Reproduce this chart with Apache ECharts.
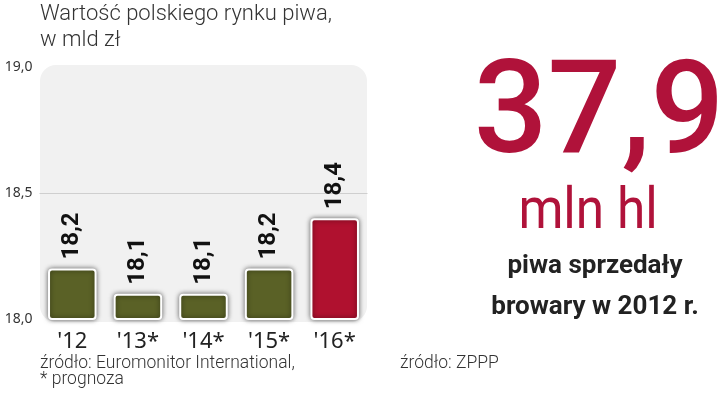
<!DOCTYPE html>
<html><head><meta charset="utf-8">
<script src="https://cdn.jsdelivr.net/npm/echarts@6/dist/echarts.min.js"></script>
<style>html,body{margin:0;padding:0;background:#fff}#c{width:720px;height:393px}</style>
</head><body><div id="c"></div>
<script>
const categories = ["'12", "'13*", "'14*", "'15*", "'16*"];
const values = [18.2, 18.1, 18.1, 18.2, 18.4];
const barColors = ['#5a6126', '#5a6126', '#5a6126', '#5a6126', '#b0112f'];
const yTicks = [18.0, 18.5, 19.0];
const title1 = 'Wartość polskiego rynku piwa,';
const title2 = 'w mld zł';
const source1 = 'źródło: Euromonitor International,';
const source2 = '* prognoza';
const source3 = 'źródło: ZPPP';
const bigNumber = '37,9';
const bigUnit = 'mln hl';
const note1 = 'piwa sprzedały';
const note2 = 'browary w 2012 r.';

const fmt = v => v.toFixed(1).replace('.', ',');
const chart = echarts.init(document.getElementById('c'));
const lightFont = 'Roboto';
chart.setOption({
  animation: false,
  grid: {left: 39.5, right: 352.5, top: 67, bottom: 74},
  xAxis: {
    type: 'category', data: categories,
    axisLine: {show: false}, axisTick: {show: false},
    axisLabel: {fontSize: 22, color: '#222', margin: 12, fontFamily: 'Noto Sans'}
  },
  yAxis: {
    type: 'value', min: yTicks[0], max: yTicks[yTicks.length - 1], interval: 0.5,
    axisLine: {show: false}, axisTick: {show: false},
    axisLabel: {fontSize: 14, color: '#333', margin: 7, formatter: v => fmt(v), fontFamily: 'Noto Sans'},
    splitLine: {show: true, lineStyle: {color: ['rgba(0,0,0,0)', '#cfcfcf', 'rgba(0,0,0,0)'], width: 1}}
  },
  series: [{
    type: 'bar', barWidth: '74%',
    data: values.map((v, i) => ({value: v, itemStyle: {color: barColors[i]}})),
    itemStyle: {borderColor: '#fff', borderWidth: 2, borderRadius: 3,
      shadowColor: 'rgba(0,0,0,0.55)', shadowBlur: 5},
    label: {show: true, position: 'top', rotate: 90, align: 'left', verticalAlign: 'middle',
      distance: 9, fontSize: 24, fontWeight: 'bold', color: '#111',
      fontFamily: 'Roboto', formatter: p => fmt(p.value)}
  }],
  graphic: [
    {type: 'rect', z: -10, shape: {x: 40, y: 65, width: 327, height: 257, r: 16}, style: {fill: '#f1f1f1'}},
    {type: 'text', left: 40, top: 3, style: {text: title1, fontSize: 22, fontFamily: lightFont, fontWeight: 300, fill: '#333'}},
    {type: 'text', left: 40, top: 29, style: {text: title2, fontSize: 22, fontFamily: lightFont, fontWeight: 300, fill: '#333'}},
    {type: 'text', left: 40, top: 355, style: {text: source1, fontSize: 17.5, fontFamily: lightFont, fontWeight: 300, fill: '#333'}},
    {type: 'text', left: 40, top: 371, style: {text: source2, fontSize: 17.5, fontFamily: lightFont, fontWeight: 300, fill: '#333'}},
    {type: 'text', left: 400, top: 355, style: {text: source3, fontSize: 17.5, fontFamily: lightFont, fontWeight: 300, fill: '#333'}},
    {type: 'text', x: 599, y: 54, style: {text: bigNumber, fontSize: 130, fontFamily: 'Roboto', fontWeight: 500, fill: '#b0123a', align: 'center', verticalAlign: 'top'}},
    {type: 'text', x: 588, y: 185, scaleX: 0.9, originX: 0, originY: 0, style: {text: bigUnit, fontSize: 57, fontFamily: 'Roboto', fontWeight: 400, fill: '#b0123a', align: 'center', verticalAlign: 'top'}},
    {type: 'text', x: 595, y: 253, style: {text: note1, fontSize: 26, fontFamily: 'Roboto', fontWeight: 700, fill: '#222', align: 'center', verticalAlign: 'top'}},
    {type: 'text', x: 595, y: 294, style: {text: note2, fontSize: 26, fontFamily: 'Roboto', fontWeight: 700, fill: '#222', align: 'center', verticalAlign: 'top'}}
  ]
});
</script></body></html>
